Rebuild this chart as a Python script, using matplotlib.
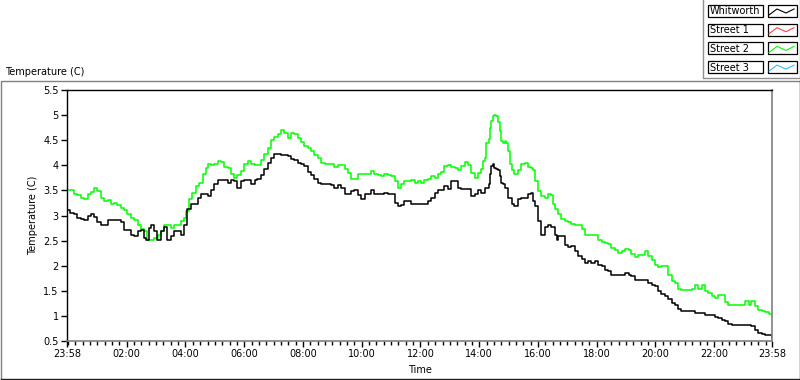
import matplotlib
matplotlib.use("Agg")
import matplotlib.pyplot as plt
from matplotlib.patches import Rectangle
import numpy as np

# minutes after 23:58 (start of the chart) and readings in degrees C
whitworth_min = [
    0, 7, 14, 21, 28, 35, 42, 48, 55, 62, 69, 76, 83, 89, 96, 103, 110, 117, 123, 130,
    137, 144, 151, 158, 161, 168, 171, 178, 183, 192, 198, 205, 212, 219, 226, 233, 239, 246, 253, 260,
    267, 273, 280, 288,
    294, 301, 308, 314, 321, 328, 335, 342, 348, 355, 362, 369, 376, 383, 389, 396, 403, 410, 417, 423,
    430, 437, 444, 451, 457, 464, 471, 478, 485, 492, 498, 505, 512, 519, 526, 532, 539, 546, 553, 560,
    567, 573,
    580, 587, 594, 601, 608, 614, 621, 628, 635, 642, 648, 655, 662, 669, 676, 683, 689, 696, 703, 710,
    717, 723, 730, 737, 744, 751, 758, 764, 771, 778, 785, 792, 798, 805, 812, 819, 826, 833, 839, 846,
    853, 861,
    863, 867, 870, 873, 877, 880, 884, 887, 891, 894, 901, 908, 914, 921, 928, 935, 942, 948, 952, 955,
    962, 969, 976, 983, 989, 996, 1000, 1003, 1010, 1017, 1023, 1030, 1037, 1044, 1051, 1058, 1064, 1071, 1078, 1085,
    1092, 1098, 1105, 1112, 1119, 1126, 1133, 1139, 1148,
    1153, 1160, 1167, 1173, 1180, 1187, 1194, 1201, 1208, 1214, 1221, 1228, 1235, 1242, 1248, 1255, 1262, 1269, 1276, 1283,
    1289, 1296, 1303, 1310, 1317, 1323, 1330, 1337, 1344, 1351, 1358, 1364, 1371, 1378, 1385, 1392, 1398, 1405, 1412, 1419,
    1426, 1433, 1440,
]
whitworth_temp = [
    3.10, 3.05, 3.03, 2.95, 2.93, 2.91, 3.00, 3.03, 2.98, 2.87, 2.82, 2.82, 2.91, 2.91, 2.91, 2.92, 2.88, 2.72, 2.71, 2.62,
    2.59, 2.69, 2.72, 2.55, 2.52, 2.75, 2.81, 2.69, 2.52, 2.69, 2.77, 2.52, 2.60, 2.70, 2.70, 2.62, 2.82, 3.12, 3.22, 3.23,
    3.34, 3.43, 3.43, 3.39,
    3.50, 3.62, 3.70, 3.70, 3.70, 3.65, 3.70, 3.69, 3.54, 3.69, 3.71, 3.70, 3.62, 3.70, 3.72, 3.81, 3.92, 4.05, 4.15, 4.22,
    4.22, 4.21, 4.21, 4.19, 4.12, 4.10, 4.05, 4.02, 3.99, 3.87, 3.81, 3.72, 3.65, 3.62, 3.62, 3.62, 3.61, 3.55, 3.61, 3.54,
    3.43, 3.42,
    3.49, 3.50, 3.41, 3.32, 3.42, 3.43, 3.50, 3.42, 3.43, 3.43, 3.45, 3.42, 3.43, 3.25, 3.19, 3.20, 3.29, 3.28, 3.23, 3.22,
    3.22, 3.22, 3.22, 3.29, 3.35, 3.45, 3.50, 3.50, 3.59, 3.52, 3.69, 3.68, 3.55, 3.52, 3.52, 3.52, 3.39, 3.42, 3.50, 3.45,
    3.55, 3.62,
    3.82, 3.99, 4.02, 3.95, 3.92, 3.90, 3.79, 3.65, 3.62, 3.55, 3.35, 3.23, 3.19, 3.32, 3.35, 3.35, 3.42, 3.45, 3.29, 3.19,
    2.89, 2.62, 2.77, 2.81, 2.77, 2.62, 2.52, 2.59, 2.60, 2.42, 2.37, 2.39, 2.29, 2.19, 2.14, 2.05, 2.09, 2.05, 2.09, 2.02,
    1.99, 1.92, 1.89, 1.82, 1.82, 1.82, 1.82, 1.85, 1.82,
    1.79, 1.72, 1.72, 1.72, 1.72, 1.65, 1.61, 1.59, 1.50, 1.43, 1.39, 1.34, 1.25, 1.22, 1.14, 1.10, 1.10, 1.09, 1.10, 1.05,
    1.05, 1.05, 1.02, 1.02, 1.02, 0.97, 0.95, 0.92, 0.89, 0.83, 0.82, 0.82, 0.82, 0.82, 0.81, 0.81, 0.79, 0.72, 0.65, 0.63,
    0.62, 0.61, 0.55,
]

street2_min = [
    0, 11, 14, 21, 28, 35, 42, 48, 55, 62, 69, 76, 83, 89, 96, 103, 110, 117, 123, 130,
    137, 144, 151, 158, 164, 171, 178, 185, 192, 198, 205, 212, 219, 226, 233, 239, 243, 250, 256, 263,
    270, 277, 284, 288,
    294, 301, 308, 314, 321, 328, 335, 342, 348, 355, 362, 369, 376, 383, 389, 396, 403, 410, 417, 423,
    430, 437, 444, 451, 457, 464, 471, 478, 485, 492, 498, 505, 512, 519, 526, 532, 539, 546, 553, 560,
    567, 573,
    580, 587, 594, 601, 608, 614, 621, 628, 635, 642, 648, 655, 662, 669, 676, 683, 689, 696, 703, 710,
    717, 723, 730, 737, 744, 751, 758, 764, 771, 778, 785, 792, 798, 805, 812, 819, 826, 833, 839, 846,
    850, 853, 856, 861,
    863, 867, 870, 873, 877, 880, 884, 887, 891, 894, 897, 901, 904, 908, 914, 921, 928, 935, 942, 948,
    952, 955, 962, 969, 976, 983, 989, 993, 996, 1003, 1010, 1017, 1023, 1030, 1037, 1044, 1051, 1058, 1064, 1071,
    1078, 1085, 1092, 1098, 1105, 1112, 1119, 1126, 1133, 1139, 1148,
    1153, 1160, 1167, 1173, 1180, 1187, 1194, 1201, 1208, 1214, 1221, 1228, 1235, 1242, 1248, 1255, 1262, 1269, 1276, 1283,
    1289, 1296, 1303, 1310, 1317, 1323, 1330, 1337, 1344, 1351, 1358, 1364, 1371, 1378, 1385, 1392, 1398, 1405, 1412, 1419,
    1426, 1433, 1440,
]
street2_temp = [
    3.50, 3.50, 3.43, 3.41, 3.35, 3.33, 3.43, 3.47, 3.54, 3.48, 3.35, 3.29, 3.30, 3.23, 3.25, 3.20, 3.14, 3.10, 3.02, 2.95,
    2.92, 2.81, 2.74, 2.69, 2.52, 2.52, 2.55, 2.62, 2.70, 2.81, 2.82, 2.75, 2.81, 2.82, 2.89, 2.95, 3.09, 3.32, 3.45, 3.59,
    3.65, 3.82, 3.95, 4.02,
    4.00, 4.03, 4.09, 4.07, 3.97, 3.95, 3.82, 3.75, 3.80, 3.89, 4.02, 4.09, 4.03, 4.00, 4.00, 4.10, 4.22, 4.35, 4.50, 4.57,
    4.62, 4.71, 4.64, 4.55, 4.65, 4.62, 4.55, 4.47, 4.39, 4.35, 4.29, 4.21, 4.14, 4.05, 4.02, 4.03, 4.02, 3.97, 4.00, 4.00,
    3.92, 3.85,
    3.72, 3.72, 3.82, 3.82, 3.83, 3.82, 3.89, 3.83, 3.81, 3.79, 3.82, 3.81, 3.79, 3.69, 3.54, 3.62, 3.69, 3.69, 3.70, 3.65,
    3.69, 3.65, 3.70, 3.72, 3.79, 3.75, 3.83, 3.87, 3.99, 4.00, 3.97, 3.94, 3.90, 3.99, 4.07, 4.00, 3.85, 3.75, 3.85, 3.92,
    4.09, 4.15, 4.45, 4.52,
    4.75, 4.89, 4.99, 5.00, 4.99, 4.86, 4.69, 4.49, 4.44, 4.49, 4.45, 4.29, 4.02, 3.90, 3.82, 3.90, 4.02, 4.05, 3.97, 3.95,
    3.90, 3.69, 3.49, 3.39, 3.35, 3.42, 3.41, 3.22, 3.12, 3.02, 2.93, 2.90, 2.88, 2.83, 2.82, 2.82, 2.74, 2.62, 2.62, 2.62,
    2.62, 2.52, 2.47, 2.45, 2.43, 2.35, 2.32, 2.25, 2.29, 2.34, 2.32,
    2.23, 2.17, 2.22, 2.22, 2.30, 2.19, 2.12, 2.02, 1.97, 1.99, 1.99, 1.82, 1.69, 1.65, 1.54, 1.52, 1.52, 1.52, 1.54, 1.61,
    1.54, 1.61, 1.50, 1.45, 1.39, 1.35, 1.41, 1.41, 1.27, 1.22, 1.22, 1.22, 1.22, 1.21, 1.30, 1.22, 1.30, 1.19, 1.12, 1.09,
    1.07, 1.03, 1.02,
]

legend_names = ["Whitworth", "Street 1", "Street 2", "Street 3"]
legend_colors = ["#000000", "#ff4040", "#00ff00", "#33bbff"]

major_ticks = [0, 122, 242, 362, 482, 602, 722, 842, 962, 1082, 1202, 1322, 1440]
major_labels = ["23:58", "02:00", "04:00", "06:00", "08:00", "10:00", "12:00",
                "14:00", "16:00", "18:00", "20:00", "22:00", "23:58"]
minor_ticks = np.arange(2, 1440, 15)
y_ticks = np.arange(0.5, 5.51, 0.5)

plt.rcParams["font.family"] = "DejaVu Sans"

fig = plt.figure(figsize=(8, 3.8), dpi=100)
fig.patch.set_facecolor("white")

# pixel-space overlay for the frame, legend and loose labels
bg = fig.add_axes([0, 0, 1, 1])
bg.set_xlim(0, 800)
bg.set_ylim(380, 0)
bg.axis("off")

bg.plot([0.5, 0.5, 799.5], [379, 80.5, 80.5], color="#808080", lw=1)
bg.plot([0.5, 799.5, 799.5], [379.3, 379.3, 80.5], color="#202020", lw=1)
bg.text(5, 72, "Temperature (C)", fontsize=7, va="center", ha="left")

# legend block in the top right corner
bg.plot([702.5, 702.5, 799.5, 799.5], [0, 77.5, 77.5, 0], color="#909090", lw=1)
zig_x = [769, 777, 786, 794]
zig_y = [4, -2, 2, -2]
for i, (name, col) in enumerate(zip(legend_names, legend_colors)):
    top = 5 + i * 18.7
    bg.add_patch(Rectangle((707.5, top), 55, 12, fill=False, ec="black", lw=0.9))
    bg.add_patch(Rectangle((767.5, top), 29, 12, fill=False, ec="black", lw=0.9))
    bg.text(710, top + 6.5, name, fontsize=7, va="center", ha="left")
    bg.plot(zig_x, [top + 6 + v for v in zig_y], color=col, lw=0.8)

ax = fig.add_axes([67 / 800, 1 - 341 / 380, 705 / 800, 251 / 380])
ax.set_facecolor("white")

ax.plot(street2_min, street2_temp, color=legend_colors[2], lw=1.1, drawstyle="steps-post")
ax.plot(whitworth_min, whitworth_temp, color=legend_colors[0], lw=1.1, drawstyle="steps-post")

ax.set_xlim(0, 1440)
ax.set_ylim(0.5, 5.5)
ax.set_xticks(major_ticks)
ax.set_xticklabels(major_labels)
ax.set_xticks(minor_ticks, minor=True)
ax.set_yticks(y_ticks)
ax.set_yticklabels(["%g" % v for v in y_ticks])
ax.tick_params(axis="both", which="major", direction="out", length=4, width=1,
               labelsize=7, pad=2)
ax.tick_params(axis="x", which="minor", direction="out", length=3, width=1)

for side in ["top", "left"]:
    ax.spines[side].set_color("black")
    ax.spines[side].set_linewidth(1)
for side in ["bottom", "right"]:
    ax.spines[side].set_color("#808080")
    ax.spines[side].set_linewidth(1.2)

ax.set_xlabel("Time", fontsize=7, labelpad=4)
ax.set_ylabel("Temperature (C)", fontsize=7, labelpad=4)

fig.savefig("out.png", dpi=100)
